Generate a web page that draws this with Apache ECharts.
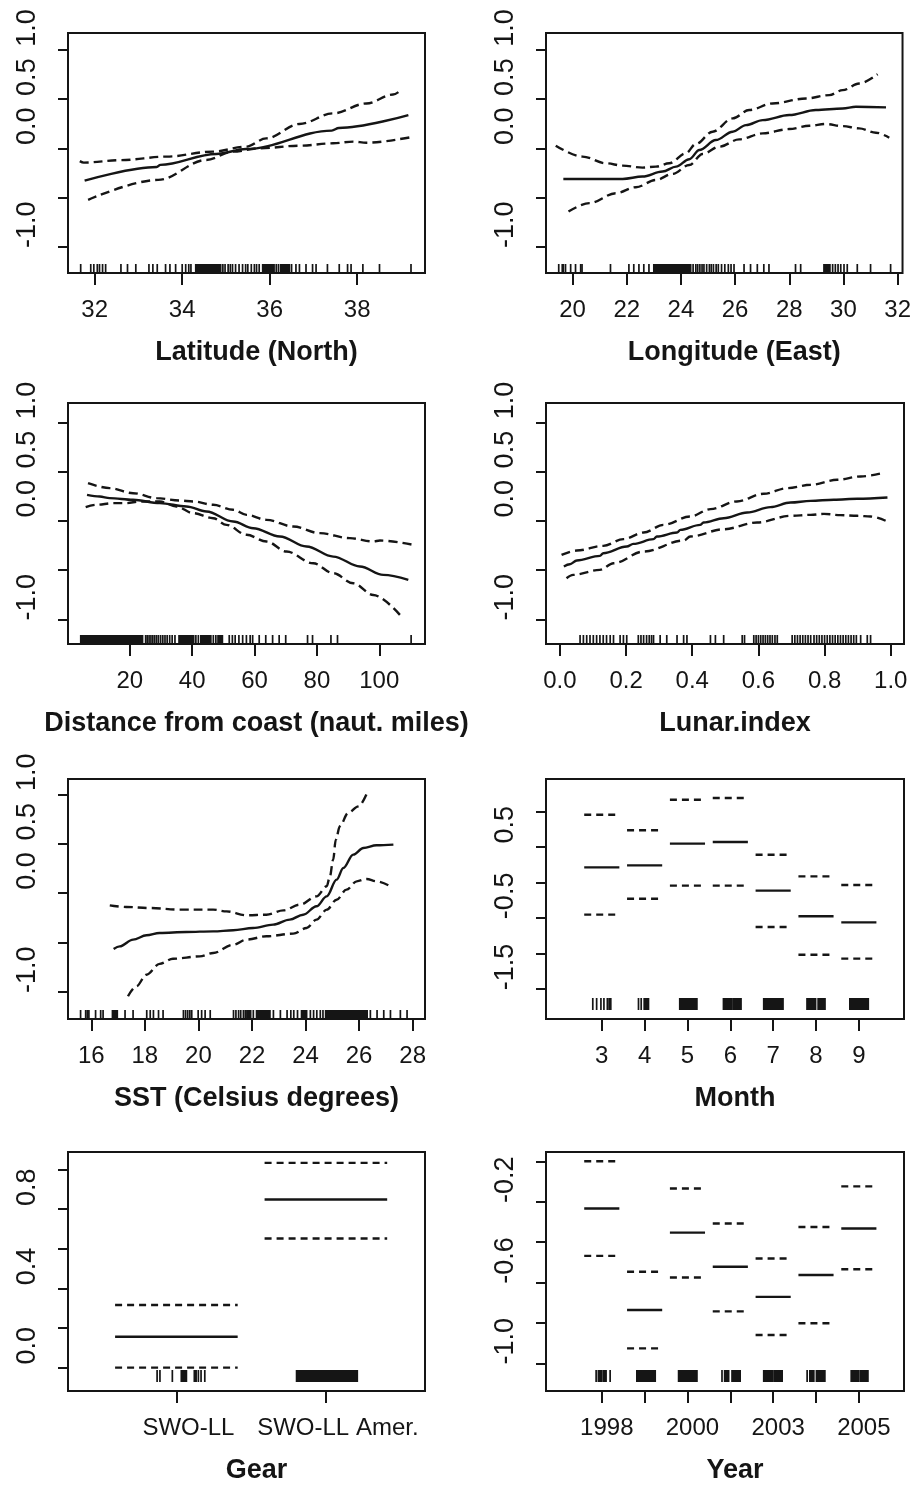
<!DOCTYPE html>
<html><head><meta charset="utf-8">
<script src="https://cdn.jsdelivr.net/npm/echarts@6/dist/echarts.min.js"></script>
<style>html,body{margin:0;padding:0;background:#fff}#c{width:914px;height:1485px}</style>
</head><body><div id="c"></div>
<script>
// ---------------- DATA ----------------
const latFit   = [[31.77,-0.328],[33.42,-0.19],[33.5,-0.168],[34.78,-0.057],[35.46,-0.007],[37.42,0.18],[37.58,0.207],[39.17,0.338]];
const latUpper = [[31.66,-0.13],[31.75,-0.145],[32.6,-0.12],[33.64,-0.084],[34.7,-0.034],[35.46,0.017],[35.92,0.101],[36.68,0.247],[37.45,0.355],[38.21,0.456],[38.82,0.547],[39.02,0.598]];
const latLower = [[31.85,-0.524],[33.45,-0.321],[34.55,-0.118],[35.16,-0.034],[35.77,0.0],[36.68,0.027],[37.45,0.051],[37.91,0.068],[38.21,0.057],[39.2,0.111]];
const latRug = [31.68,31.91,31.98,32.06,32.11,32.18,32.25,32.6,32.75,32.94,33.24,33.33,33.43,33.62,33.72,33.85,34.0,34.08,34.15,34.2,[34.31,34.88],34.93,34.98,35.05,35.1,35.15,35.22,35.3,35.38,35.45,35.5,35.58,35.65,35.7,35.76,[35.84,36.1],36.15,36.2,[36.25,36.45],36.5,36.6,36.68,36.83,36.98,37.06,37.32,37.59,37.78,37.86,38.13,38.51,39.23];
const latTicks = [32,34,36,38];

const lonFit   = [[19.66,-0.311],[20.62,-0.311],[21.85,-0.311],[22.58,-0.287],[23.32,-0.236],[23.82,-0.186],[24.31,-0.111],[24.68,-0.017],[25.29,0.084],[25.91,0.169],[26.4,0.236],[27.02,0.287],[28.0,0.338],[28.98,0.389],[29.97,0.405],[30.46,0.422],[31.57,0.416]];
const lonUpper = [[19.38,0.027],[20.37,-0.084],[21.23,-0.152],[21.85,-0.176],[22.58,-0.196],[23.08,-0.186],[23.57,-0.152],[24.18,-0.051],[24.55,0.044],[25.17,0.169],[25.91,0.304],[26.52,0.389],[27.38,0.456],[28.62,0.507],[29.48,0.541],[29.97,0.591],[30.58,0.659],[31.26,0.753]];
const lonLower = [[19.85,-0.642],[20.62,-0.557],[21.6,-0.456],[22.34,-0.395],[23.08,-0.321],[23.69,-0.26],[24.31,-0.169],[24.8,-0.057],[25.42,0.017],[26.15,0.091],[27.02,0.152],[28.0,0.196],[28.74,0.23],[29.35,0.247],[29.97,0.226],[30.58,0.203],[31.2,0.159],[31.69,0.108]];
const lonRug = [19.49,19.62,19.66,19.74,19.93,20.11,20.3,20.35,21.4,22.08,22.26,22.45,22.63,22.82,[23.0,24.36],24.45,24.55,24.62,24.7,24.78,24.85,24.95,25.05,25.12,25.2,25.3,25.38,25.5,25.62,25.75,25.85,25.96,26.33,26.57,26.82,27.06,27.25,28.23,28.42,[29.28,29.5],29.6,29.7,29.8,29.9,30.02,30.14,30.51,31.0,31.74];
const lonTicks = [20,22,24,26,28,30,32];

const distFit   = [[6.31,0.264],[10.37,0.247],[13.58,0.231],[21.07,0.214],[29.63,0.18],[38.18,0.146],[44.6,0.095],[53.16,-0.007],[59.57,-0.075],[68.13,-0.159],[76.68,-0.261],[85.24,-0.363],[93.8,-0.464],[101.28,-0.549],[109.3,-0.6]];
const distUpper = [[6.63,0.383],[13.58,0.332],[21.07,0.281],[28.56,0.231],[36.04,0.207],[40.32,0.197],[46.74,0.163],[53.16,0.112],[57.43,0.061],[63.85,0.01],[72.41,-0.058],[80.96,-0.125],[90.59,-0.176],[98.07,-0.21],[100.2,-0.2],[110.9,-0.244]];
const distLower = [[5.88,0.139],[9.3,0.163],[14.65,0.18],[18.93,0.18],[23.21,0.197],[29.63,0.197],[34.97,0.146],[40.32,0.078],[46.74,0.027],[51.02,-0.041],[57.43,-0.142],[63.85,-0.21],[70.27,-0.312],[78.82,-0.431],[85.24,-0.532],[91.66,-0.634],[98.07,-0.753],[106.63,-0.956]];
const distRug = [[4.3,24.1],25.1,25.6,26.2,26.8,27.4,28.0,28.6,29.2,29.9,30.6,31.3,32.0,32.8,33.6,34.5,[35.8,40.5],41.2,42.0,[42.8,46.0],46.8,47.6,[48.3,49.7],51.9,52.9,53.8,55.0,56.2,57.4,58.6,59.4,61.5,63.6,65.8,67.9,70.0,77.0,78.6,84.5,86.6,110.2];
const distTicks = [20,40,60,80,100];

const lunarFit   = [[0.012,-0.464],[0.03,-0.441],[0.051,-0.403],[0.121,-0.356],[0.131,-0.329],[0.202,-0.261],[0.222,-0.234],[0.283,-0.186],[0.293,-0.159],[0.354,-0.119],[0.364,-0.092],[0.424,-0.041],[0.434,-0.017],[0.495,0.027],[0.566,0.085],[0.636,0.139],[0.697,0.186],[0.758,0.203],[0.828,0.214],[0.899,0.224],[0.99,0.237]];
const lunarUpper = [[0.005,-0.346],[0.051,-0.302],[0.131,-0.254],[0.192,-0.186],[0.253,-0.119],[0.313,-0.041],[0.394,0.044],[0.455,0.119],[0.535,0.197],[0.616,0.275],[0.687,0.332],[0.758,0.366],[0.838,0.417],[0.909,0.451],[0.975,0.485]];
const lunarLower = [[0.02,-0.583],[0.04,-0.549],[0.121,-0.498],[0.162,-0.431],[0.253,-0.312],[0.374,-0.2],[0.394,-0.159],[0.495,-0.085],[0.596,-0.017],[0.697,0.051],[0.758,0.061],[0.798,0.071],[0.848,0.058],[0.899,0.051],[0.939,0.044],[0.99,-0.007]];
const lunarRug = [0.061,0.071,0.081,0.091,0.101,0.111,0.121,0.131,0.141,0.152,0.162,0.182,0.192,0.202,0.237,0.245,0.253,0.262,0.27,0.277,0.283,0.303,0.323,0.354,0.374,0.384,0.455,0.47,0.495,0.551,0.558,0.586,0.593,0.6,0.607,0.614,0.621,0.628,0.635,0.642,0.65,0.657,0.702,0.71,0.718,0.726,0.734,0.742,0.75,0.758,0.768,0.776,0.784,0.792,0.8,0.808,0.816,0.824,0.832,0.84,0.848,0.856,0.864,0.872,0.88,0.888,0.896,0.909,0.929,0.939];
const lunarTicks = [0,0.2,0.4,0.6,0.8,1.0];

const sstFit   = [[16.835,-0.568],[17.06,-0.541],[17.56,-0.473],[18.06,-0.429],[18.55,-0.405],[19.55,-0.395],[20.55,-0.389],[21.3,-0.378],[22.04,-0.355],[22.79,-0.321],[23.41,-0.27],[23.91,-0.22],[24.41,-0.135],[24.79,-0.034],[25.16,0.135],[25.41,0.253],[25.78,0.389],[26.16,0.456],[26.65,0.483],[27.28,0.49]];
const sstUpper = [[16.69,-0.125],[17.31,-0.142],[18.18,-0.152],[19.3,-0.169],[20.55,-0.169],[21.05,-0.186],[21.79,-0.226],[22.54,-0.22],[23.17,-0.176],[23.79,-0.118],[24.41,-0.034],[24.79,0.068],[24.91,0.169],[25.03,0.338],[25.13,0.541],[25.28,0.676],[25.59,0.811],[25.97,0.878],[26.34,1.04]];
const sstLower = [[17.37,-1.047],[17.68,-0.946],[18.06,-0.828],[18.55,-0.718],[19.05,-0.667],[20.05,-0.642],[20.55,-0.608],[21.3,-0.524],[21.79,-0.473],[22.54,-0.439],[23.54,-0.412],[24.04,-0.355],[24.41,-0.27],[24.79,-0.169],[25.16,-0.068],[25.53,0.034],[25.91,0.118],[26.28,0.142],[26.65,0.118],[27.09,0.078]];
const sstRug = [15.6,15.79,15.85,15.91,16.16,16.35,16.44,[16.79,16.97],17.26,17.56,18.07,18.2,18.32,18.51,18.68,19.44,19.52,19.6,19.68,19.75,19.99,20.12,20.25,20.44,21.31,21.4,21.5,21.58,21.68,21.75,[21.81,21.95],22.05,[22.17,22.67],22.8,23.06,23.31,23.45,23.56,23.7,[23.85,24.04],24.18,24.3,24.42,24.55,24.65,[24.75,26.3],26.42,26.67,26.92,27.17,27.54,27.79];
const sstTicks = [16,18,20,22,24,26,28];

const months = [3,4,5,6,7,8,9];
const monthFit   = [0.211,0.239,0.544,0.568,-0.117,-0.478,-0.563];
const monthUpper = [0.952,0.732,1.163,1.187,0.389,0.084,-0.038];
const monthLower = [-0.455,-0.23,-0.047,-0.047,-0.629,-1.018,-1.074];
const monthRug = [2.79,2.88,2.98,3.05,3.13,[3.17,3.21],3.857,3.92,[3.99,4.09],[4.82,5.22],[5.84,6.04],[6.08,6.25],[6.78,7.23],[7.79,7.99],[8.05,8.21],[8.79,9.22]];

const gears = ['SWO-LL','SWO-LL Amer.'];
const gearFit   = [0.156,0.849];
const gearUpper = [0.316,1.034];
const gearLower = [0.0,0.652];
const gearRug = [0.871,0.89,0.973,[1.033,1.067],[1.12,1.132],1.147,1.165,1.19,[1.804,2.21]];

const years = ['1998','1999','2000','2001','2003','2004','2005'];
const yearFit   = [-0.234,-0.736,-0.353,-0.522,-0.671,-0.563,-0.333];
const yearUpper = [0.0,-0.547,-0.135,-0.308,-0.481,-0.325,-0.124];
const yearLower = [-0.468,-0.926,-0.575,-0.743,-0.86,-0.802,-0.534];
const yearRug = [0.868,[0.92,1.0],[1.04,1.1],1.195,[1.818,2.247],[2.793,3.221],3.806,[3.868,3.961],[4.04,4.23],[4.78,4.98],[5.02,5.21],5.793,[5.856,5.949],[6.01,6.207],[6.822,7.0],[7.04,7.212]];

const effYTicks = [-1,-0.5,0,0.5,1];   const effYLabels = [-1,0,0.5,1];
const monthYTicks = [-1.5,-1,-0.5,0,0.5,1]; const monthYLabels = [-1.5,-0.5,0.5];
const gearYTicks = [0,0.2,0.4,0.6,0.8,1.0]; const gearYLabels = [0,0.4,0.8];
const yearYTicks = [-1,-0.8,-0.6,-0.4,-0.2,0]; const yearYLabels = [-1,-0.6,-0.2];

// ---------------- LAYOUT ----------------
const INK = '#151515';
const TICKFONT = "'Liberation Sans',Arial,sans-serif";
const TITLEFONT = "'Liberation Sans',Arial,sans-serif";
const idx = (arr)=>arr.map((_,i)=>i+1);
const toPairs = (xs, ys)=>xs.map((x,i)=>[x, ys[i]]);
const rugItems = (r)=>r.map(v=>Array.isArray(v)?v:[v,v]);

const panels = [
 {box:[68,33,357,240], xr:[31.39,39.55], yr:[-1.267,1.172], xt:latTicks, xl:latTicks, xf:v=>String(v), yt:effYTicks, yl:effYLabels, name:'Latitude (North)', curves:[latFit,latUpper,latLower], rug:latRug},
 {box:[546,33,358,240], xr:[19.02,32.18], yr:[-1.267,1.172], xt:lonTicks, xl:lonTicks, xf:v=>String(v), yt:effYTicks, yl:effYLabels, name:'Longitude (East)', curves:[lonFit,lonUpper,lonLower], rug:lonRug},
 {box:[68,403,357,241], xr:[0.21,114.65], yr:[-1.251,1.197], xt:distTicks, xl:distTicks, xf:v=>String(v), yt:effYTicks, yl:effYLabels, name:'Distance from coast (naut. miles)', curves:[distFit,distUpper,distLower], rug:distRug},
 {box:[546,403,358,241], xr:[-0.042,1.04], yr:[-1.251,1.197], xt:lunarTicks, xl:lunarTicks, xf:v=>v.toFixed(1), yt:effYTicks, yl:effYLabels, name:'Lunar.index', curves:[lunarFit,lunarUpper,lunarLower], rug:lunarRug},
 {box:[68,779,357,240], xr:[15.13,28.46], yr:[-1.277,1.155], xt:sstTicks, xl:sstTicks, xf:v=>String(v), yt:effYTicks, yl:effYLabels, name:'SST (Celsius degrees)', curves:[sstFit,sstUpper,sstLower], rug:sstRug},
 {box:[546,779,358,240], xr:[1.698,10.054], yr:[-1.923,1.454], xt:months, xl:months, xf:v=>String(v), yt:monthYTicks, yl:monthYLabels, name:'Month', levels:months, fit:monthFit, up:monthUpper, lo:monthLower, rug:monthRug, block:true},
 {box:[68,1152,357,239], xr:[0.275,2.663], yr:[-0.118,1.089], xt:idx(gears), xl:idx(gears), xf:v=>gears[Math.round(v)-1], xpad:[0,0,0,24], yt:gearYTicks, yl:gearYLabels, name:'Gear', levels:idx(gears), fit:gearFit, up:gearUpper, lo:gearLower, rug:gearRug, block:true},
 {box:[546,1152,358,239], xr:[-0.302,8.054], yr:[-1.137,0.046], xt:idx(years), xl:[1,3,5,7], xf:v=>years[Math.round(v)-1], xpad:[0,0,0,10], yt:yearYTicks, yl:yearYLabels, name:'Year', levels:idx(years), fit:yearFit, up:yearUpper, lo:yearLower, rug:yearRug, block:true}
];

const grid=[], xAxis=[], yAxis=[], series=[];

function rugRenderer(off0, off1){
  return function(params, api){
    const cs = params.coordSys; const bottom = cs.y + cs.height;
    const a = api.coord([api.value(0), 0])[0];
    const b = api.coord([api.value(1), 0])[0];
    if (Math.abs(b-a) < 0.6) {
      return {type:'line', shape:{x1:a, y1:bottom-off0, x2:a, y2:bottom-off1}, style:{stroke:INK, lineWidth:1.7}};
    }
    return {type:'rect', shape:{x:a-0.85, y:bottom-off1, width:b-a+1.7, height:off1-off0}, style:{fill:INK}};
  };
}
function segRenderer(dashed){
  return function(params, api){
    const p1 = api.coord([api.value(0)-0.41, api.value(1)]);
    const p2 = api.coord([api.value(0)+0.41, api.value(1)]);
    return {type:'line', shape:{x1:p1[0], y1:p1[1], x2:p2[0], y2:p2[1]},
      style:{stroke:INK, lineWidth:2.4, lineDash: dashed ? [7,5] : null}};
  };
}

panels.forEach((p,i)=>{
  grid.push({left:p.box[0], top:p.box[1], width:p.box[2], height:p.box[3], show:true, borderColor:INK, borderWidth:2, backgroundColor:'transparent', containLabel:false});
  xAxis.push({type:'value', gridIndex:i, min:p.xr[0], max:p.xr[1],
    axisLine:{show:false, onZero:false}, splitLine:{show:false},
    axisTick:{show:true, length:12, lineStyle:{color:INK, width:2}, customValues:p.xt},
    axisLabel:{customValues:p.xl, formatter:p.xf, margin:25, fontSize:24, color:INK, fontFamily:TICKFONT, padding:p.xpad||0},
    name:p.name, nameLocation:'middle', nameGap:66,
    nameTextStyle:{fontFamily:TITLEFONT, fontWeight:'bold', fontSize:27, color:INK, padding:[0,0,0,20]}
  });
  yAxis.push({type:'value', gridIndex:i, min:p.yr[0], max:p.yr[1],
    axisLine:{show:false, onZero:false}, splitLine:{show:false},
    axisTick:{show:true, length:10, lineStyle:{color:INK, width:2}, customValues:p.yt},
    axisLabel:{customValues:p.yl, formatter:v=>v.toFixed(1), rotate:90, margin:27, fontSize:27, color:INK, fontFamily:TITLEFONT, padding:[0,0,0,44]}
  });
  if (p.curves) {
    p.curves.forEach((c,k)=>{
      series.push({type:'line', xAxisIndex:i, yAxisIndex:i, data:c, showSymbol:false, smooth:0.35, smoothMonotone:'x', silent:true,
        lineStyle:{color:INK, width:2.4, type: k===0 ? 'solid' : [9,5]}});
    });
    series.push({type:'custom', xAxisIndex:i, yAxisIndex:i, data:rugItems(p.rug), encode:{x:[0,1]}, renderItem:rugRenderer(0,9), silent:true});
  } else {
    [[p.fit,false],[p.up,true],[p.lo,true]].forEach(([vals,dashed])=>{
      series.push({type:'custom', xAxisIndex:i, yAxisIndex:i, data:toPairs(p.levels, vals), encode:{x:0,y:1}, renderItem:segRenderer(dashed), silent:true});
    });
    series.push({type:'custom', xAxisIndex:i, yAxisIndex:i, data:rugItems(p.rug), encode:{x:[0,1]}, renderItem:rugRenderer(9,21), silent:true});
  }
});

const chart = echarts.init(document.getElementById('c'), null, {renderer:'canvas'});
chart.setOption({animation:false, backgroundColor:'#fff', grid, xAxis, yAxis, series});
</script></body></html>
